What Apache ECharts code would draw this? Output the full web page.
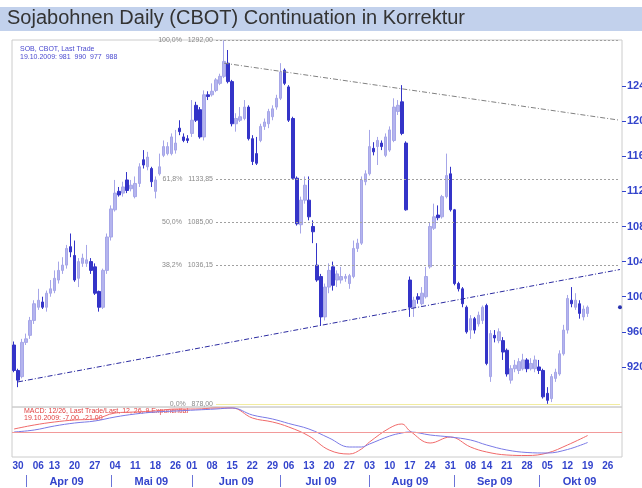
<!DOCTYPE html>
<html>
<head>
<meta charset="utf-8">
<script src="https://cdn.jsdelivr.net/npm/echarts@6.0.0/dist/echarts.min.js"></script>
<style>
  html, body { margin: 0; padding: 0; background: #ffffff; }
  #chart { width: 642px; height: 488px; }
</style>
</head>
<body>
<div id="chart"></div>
<script>
// Trading days (2009), holidays excluded, plus a few empty days on the right
const tradingDays = [
  '03-27',
  '03-30','03-31','04-01','04-02','04-03',
  '04-06','04-07','04-08','04-09',
  '04-13','04-14','04-15','04-16','04-17',
  '04-20','04-21','04-22','04-23','04-24',
  '04-27','04-28','04-29','04-30','05-01',
  '05-04','05-05','05-06','05-07','05-08',
  '05-11','05-12','05-13','05-14','05-15',
  '05-18','05-19','05-20','05-21','05-22',
  '05-26','05-27','05-28','05-29',
  '06-01','06-02','06-03','06-04','06-05',
  '06-08','06-09','06-10','06-11','06-12',
  '06-15','06-16','06-17','06-18','06-19',
  '06-22','06-23','06-24','06-25','06-26',
  '06-29','06-30','07-01','07-02',
  '07-06','07-07','07-08','07-09','07-10',
  '07-13','07-14','07-15','07-16','07-17',
  '07-20','07-21','07-22','07-23','07-24',
  '07-27','07-28','07-29','07-30','07-31',
  '08-03','08-04','08-05','08-06','08-07',
  '08-10','08-11','08-12','08-13','08-14',
  '08-17','08-18','08-19','08-20','08-21',
  '08-24','08-25','08-26','08-27','08-28',
  '08-31','09-01','09-02','09-03','09-04',
  '09-08','09-09','09-10','09-11',
  '09-14','09-15','09-16','09-17','09-18',
  '09-21','09-22','09-23','09-24','09-25',
  '09-28','09-29','09-30','10-01','10-02',
  '10-05','10-06','10-07','10-08','10-09',
  '10-12','10-13','10-14','10-15','10-16',
  '10-19','10-20','10-21','10-22','10-23',
  '10-26','10-27','10-28','10-29'
];

// Daily prices, US cents per bushel
const openP = [
  945, 916, 909, 948, 956, 973, 988, 994, 988,1004,
 1007,1019,1030,1036,1057,1047,1021,1038,1038,1040,
 1034,1006, 988,1030,1068,1099,1120,1118,1133,1123,
 1114,1129,1156,1148,1146,1120,1140,1161,1163,1163,
 1167,1192,1182,1180,1186,1218,1213,1182,1230,1230,
 1235,1243,1251,1266,1245,1197,1201,1203,1216,1180,
 1163,1178,1194,1197,1205,1216,1226,1258,1239,1203,
 1135,1082,1110,1110,1080,1036,1023, 977,1011,1034,
 1019,1019,1021,1015,1023,1055,1061,1131,1140,1169,
 1171,1175,1161,1167,1178,1211,1222,1175,1019, 988,
 1000, 992,1000,1034,1078,1093,1091,1114,1140,1099,
 1015,1009, 988, 962, 975, 969, 973, 990, 909, 956,
  950, 950, 939, 905, 918, 916, 918, 928, 918, 918,
  920, 916, 890, 884, 907, 912, 935, 962, 996, 988,
  992, 977, 981
];
const closeP = [
  916, 905, 948, 952, 973, 992, 996, 988,1004,1009,
 1021,1030,1036,1055,1051,1019,1040,1044,1042,1030,
 1004, 988,1030,1068,1100,1118,1116,1125,1121,1127,
 1129,1148,1150,1159,1131,1133,1148,1171,1171,1182,
 1175,1188,1178,1178,1201,1201,1182,1230,1228,1234,
 1247,1251,1268,1245,1197,1203,1205,1216,1180,1154,
 1152,1194,1199,1211,1214,1226,1256,1243,1201,1135,
 1083,1110,1127,1091,1074,1019, 977,1011,1030,1013,
 1026,1023,1023,1024,1055,1061,1133,1140,1171,1165,
 1178,1171,1182,1190,1216,1218,1186,1099, 988, 996,
  997,1004,1023,1080,1091,1090,1114,1138,1099,1015,
 1009, 992, 960, 975, 962, 979, 988, 924, 958, 953,
  960, 937, 912, 918, 922, 926, 928, 918, 924, 928,
  916, 886, 882, 909, 914, 935, 962, 998, 992, 996,
  981, 986, 988
];
const lowP = [
  914, 897, 907, 945, 952, 969, 985, 986, 983,1000,
 1004,1015,1026,1032,1045,1017,1011,1034,1034,1026,
 1002, 983, 986,1026,1064,1097,1114,1114,1118,1120,
 1112,1125,1146,1144,1125,1112,1138,1159,1161,1161,
 1163,1184,1176,1175,1182,1199,1180,1178,1224,1228,
 1233,1241,1249,1243,1194,1188,1199,1201,1178,1150,
 1150,1176,1190,1192,1201,1213,1224,1241,1199,1133,
 1081,1072,1106,1087,1061,1017, 967, 973,1004,1007,
 1011,1015,1017,1009,1021,1051,1059,1127,1138,1161,
 1150,1167,1159,1165,1176,1207,1184,1098, 977, 977,
  992, 990, 998,1032,1076,1087,1089,1112,1097,1013,
 1006, 988, 958, 952, 958, 966, 969, 922, 903, 948,
  947, 928, 909, 901, 914, 912, 916, 914, 916, 914,
  912, 884, 878, 880, 903, 910, 933, 958, 988, 985,
  975, 973, 977
];
const highP = [
  949, 918, 952, 958, 977, 996,1009,1000,1007,1019,
 1030,1040,1045,1059,1072,1064,1044,1049,1059,1044,
 1038,1007,1032,1072,1104,1133,1125,1131,1142,1133,
 1137,1152,1167,1165,1148,1137,1163,1178,1176,1186,
 1190,1201,1186,1184,1224,1222,1216,1235,1234,1243,
 1249,1254,1292,1281,1247,1209,1216,1224,1218,1184,
 1182,1197,1203,1214,1218,1230,1266,1260,1241,1205,
 1137,1114,1137,1137,1087,1061,1026,1015,1038,1040,
 1030,1034,1026,1026,1064,1066,1137,1144,1190,1176,
 1182,1178,1186,1194,1226,1224,1241,1177,1023,1000,
 1004,1011,1034,1085,1106,1104,1116,1163,1148,1100,
 1017,1011, 990, 979, 977, 983, 990, 992, 962, 962,
  964, 954, 941, 922, 928, 930, 935, 930, 930, 933,
  928, 918, 897, 912, 918, 939, 968,1002,1011,1004,
  996, 990, 990
];

// Right-axis tick values
const priceTicks = [920, 960, 1000, 1040, 1080, 1120, 1160, 1200, 1240];

// Date axis: first trading day of each week, month boundaries and month captions
const dayLabelIdx = [1,6,10,15,20,25,30,35,40,44,49,54,59,64,68,73,78,83,88,93,98,103,108,113,117,122,127,132,137,142,147];
const monthStartIdx = [3,24,44,66,88,109,130];
const monthLabelIdx = [13,34,55,76,98,119,140];
const monthNames = ['Apr 09','Mai 09','Jun 09','Jul 09','Aug 09','Sep 09','Okt 09'];

// MACD panel, read at weekly points
const macdIdx    = [0,5,10,15,20,25,30,35,40,45,50,54,59,64,68,73,78,83,86,88,93,96,98,103,108,113,117,122,127,132,137,142];
const macdLine   = [6,14,20,24,26,38,40,42,46,46,48,48,28,20,10,-8,-36,-44,-34,-20,8,16,2,-22,-10,-30,-40,-46,-47,-42,-26,-7];
const signalLine = [0,4,12,18,22,30,36,40,42,44,46,48,34,26,17,6,-12,-30,-30,-24,-8,-2,0,-6,-10,-16,-26,-36,-41,-42,-35,-21];

// Trend lines: [day index, price]
const upperTrend = [[52, 1266], [150, 1201]];
const lowerTrend = [[1, 903], [150, 1031]];

// Fibonacci retracement levels (percent)
const fibPercents = [0, 38.2, 50, 61.8, 100];
const fibStartIdx = 50;

const BLUE = '#3344cc';
const FONT = 'Liberation Sans';

const candles = openP.map((o, i) => [o, closeP[i], lowP[i], highP[i]]);
const lastIdx = tradingDays.length - 1;
const fibLow = Math.min(...lowP);
const fibHigh = Math.max(...highP);
const de = (v, d) => v.toFixed(d).replace('.', ',');

const fibLines = fibPercents.map(p => {
  const lvl = fibLow + (fibHigh - fibLow) * p / 100;
  return [
    {
      coord: [tradingDays[fibStartIdx], lvl],
      lineStyle: p === 0 ? { color: '#f2eca0', type: 'solid', width: 1 }
                         : { color: '#a0a0a0', type: [2, 2], width: 1 },
      label: { formatter: de(p, 1) + '%   ' + de(lvl, 2) }
    },
    { coord: [tradingDays[lastIdx], lvl] }
  ];
});

const trendLines = [
  [
    { coord: [tradingDays[upperTrend[0][0]], upperTrend[0][1]],
      lineStyle: { color: '#808080', type: [5, 2, 1, 2], width: 1 }, label: { show: false } },
    { coord: [tradingDays[upperTrend[1][0]], upperTrend[1][1]] }
  ],
  [
    { coord: [tradingDays[lowerTrend[0][0]], lowerTrend[0][1]],
      lineStyle: { color: '#2a2aa0', type: [5, 2, 1, 2], width: 1 }, label: { show: false } },
    { coord: [tradingDays[lowerTrend[1][0]], lowerTrend[1][1]] }
  ]
];

const macdData = macdIdx.map((d, k) => [tradingDays[d], macdLine[k]]);
const signalData = macdIdx.map((d, k) => [tradingDays[d], signalLine[k]]);
const nLast = openP.length - 1;

const chart = echarts.init(document.getElementById('chart'), null, { renderer: 'canvas' });
chart.setOption({
  animation: false,
  textStyle: { fontFamily: FONT },
  graphic: [
    { type: 'rect', shape: { x: 0, y: 7, width: 642, height: 24 }, style: { fill: '#c2d1ec' }, z: 0 },
    { type: 'text', left: 7, top: 8,
      style: { text: 'Sojabohnen Daily (CBOT) Continuation in Korrektur', font: '20px "Liberation Sans"', fill: '#333333' } },
    { type: 'text', left: 20, top: 46,
      style: { text: 'SOB, CBOT, Last Trade', font: '7px "Liberation Sans"', fill: '#4a4ad0' } },
    { type: 'text', left: 20, top: 54,
      style: { text: '19.10.2009: ' + openP[nLast] + '  ' + highP[nLast] + '  ' + lowP[nLast] + '  ' + closeP[nLast],
               font: '7px "Liberation Sans"', fill: '#4a4ad0' } },
    { type: 'text', left: 24, top: 408,
      style: { text: 'MACD: 12/26, Last Trade/Last, 12, 26, 9 Exponential', font: '7px "Liberation Sans"', fill: '#e04040' } },
    { type: 'text', left: 24, top: 415,
      style: { text: '19.10.2009: ' + de(macdLine[macdLine.length - 1], 2) + '  ' + de(signalLine[signalLine.length - 1], 2),
               font: '7px "Liberation Sans"', fill: '#e04040' } }
  ],
  grid: [
    { left: 12, right: 20, top: 40, height: 367, show: true, borderColor: '#cccccc', borderWidth: 1,
      backgroundColor: 'transparent', containLabel: false, outerBoundsMode: 'none' },
    { left: 12, right: 20, top: 407, height: 50, show: true, borderColor: '#cccccc', borderWidth: 1,
      backgroundColor: 'transparent', containLabel: false, outerBoundsMode: 'none' }
  ],
  xAxis: [
    { type: 'category', gridIndex: 0, data: tradingDays, boundaryGap: true,
      axisLine: { show: false }, axisTick: { show: false }, axisLabel: { show: false }, splitLine: { show: false } },
    { type: 'category', gridIndex: 1, data: tradingDays, boundaryGap: true,
      axisLine: { show: false }, axisTick: { show: false }, splitLine: { show: false },
      axisLabel: {
        interval: (i) => dayLabelIdx.includes(i),
        formatter: (v) => v.slice(3),
        color: BLUE, fontWeight: 'bold', fontSize: 10, margin: 4, fontFamily: FONT
      } },
    { type: 'category', gridIndex: 1, data: tradingDays, boundaryGap: true, position: 'bottom', offset: 18,
      axisLine: { show: false }, splitLine: { show: false },
      axisTick: { show: true, alignWithLabel: true, interval: (i) => monthStartIdx.includes(i), length: 12,
                  lineStyle: { color: '#6a74d8', width: 1 } },
      axisLabel: {
        interval: (i) => monthLabelIdx.includes(i),
        formatter: (v, i) => monthNames[monthLabelIdx.indexOf(i)],
        color: BLUE, fontWeight: 'bold', fontSize: 11, margin: 1, fontFamily: FONT
      } }
  ],
  yAxis: [
    { type: 'value', gridIndex: 0, position: 'right', min: 874.4, max: 1292.4, scale: true,
      splitLine: { show: false }, axisLine: { show: false },
      axisTick: { show: true, customValues: priceTicks, length: 4, lineStyle: { color: BLUE } },
      axisLabel: { customValues: priceTicks, formatter: (v) => String(v),
                   color: BLUE, fontWeight: 'bold', fontSize: 11, margin: 5, fontFamily: FONT } },
    { type: 'value', gridIndex: 1, min: -50, max: 50, show: false, splitLine: { show: false } }
  ],
  series: [
    {
      type: 'candlestick', xAxisIndex: 0, yAxisIndex: 0, data: candles, barWidth: 3,
      itemStyle: { color: '#b4b4ee', color0: '#3434c8', borderColor: '#a6a6e8', borderColor0: '#3434c8', borderWidth: 1 },
      markLine: {
        silent: true, symbol: ['none', 'none'], animation: false,
        label: { show: true, position: 'start', distance: 3, fontSize: 7, color: '#8a8a8a', fontFamily: FONT },
        data: fibLines.concat(trendLines)
      },
      markPoint: {
        silent: true, animation: false,
        data: [{ coord: [tradingDays[lastIdx], closeP[nLast]], symbol: 'circle', symbolSize: 4,
                 itemStyle: { color: '#2a34b0' }, label: { show: false } }]
      }
    },
    {
      type: 'line', xAxisIndex: 1, yAxisIndex: 1, data: macdData, smooth: 0.4, symbol: 'none',
      lineStyle: { color: '#f06a6a', width: 1 },
      markLine: {
        silent: true, symbol: ['none', 'none'], animation: false, label: { show: false },
        lineStyle: { color: '#f29a9a', type: 'solid', width: 1 },
        data: [{ yAxis: 0 }]
      }
    },
    {
      type: 'line', xAxisIndex: 1, yAxisIndex: 1, data: signalData, smooth: 0.4, symbol: 'none',
      lineStyle: { color: '#7a7ae6', width: 1 }
    }
  ]
});
</script>
</body>
</html>
